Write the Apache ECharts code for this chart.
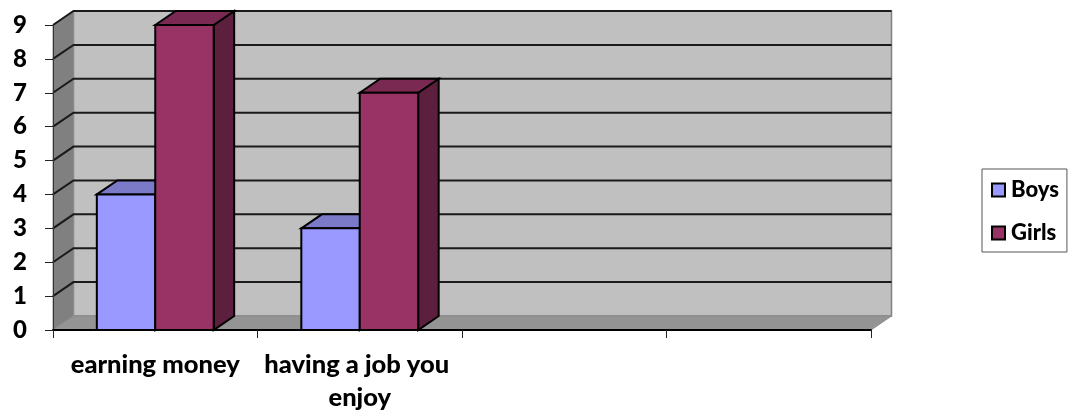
<!DOCTYPE html>
<html>
<head>
<meta charset="utf-8">
<style>
  html, body { margin: 0; padding: 0; background: #fff; }
  #chart { width: 1077px; height: 412px; }
</style>
<script src="https://cdn.jsdelivr.net/npm/echarts@6/dist/echarts.min.js"></script>
</head>
<body>
<div id="chart"></div>
<script>
var categories = ['earning money', 'having a job you enjoy', '', ''];
var yTicks = [1, 2, 3, 4, 5, 6, 7, 8, 9];
var boysValues = [4, 3];
var girlsValues = [9, 7];

// fake 3d depth of the old excel chart
var depthX = 20.5;
var depthY = 14;
var font = 'Lato, "Noto Sans", sans-serif';

function poly(points, fill, stroke, lineWidth) {
  return {
    type: 'polygon',
    shape: { points: points },
    style: { fill: fill, stroke: stroke, lineWidth: lineWidth }
  };
}

function renderWalls(params, api) {
  var c = params.coordSys;
  var l = c.x, r = c.x + c.width, t = c.y, b = c.y + c.height;
  return {
    type: 'group',
    children: [
      poly([[l + depthX, t - depthY], [r + depthX, t - depthY], [r + depthX, b - depthY], [l + depthX, b - depthY]], '#c0c0c0', '#808080', 1.5),
      poly([[l, t], [l + depthX, t - depthY], [l + depthX, b - depthY], [l, b]], '#808080', '#8c8c8c', 1),
      poly([[l, b], [l + depthX, b - depthY], [r + depthX, b - depthY], [r, b]], '#949494', '#8c8c8c', 1)
    ]
  };
}

function renderGrid(params, api) {
  var c = params.coordSys;
  var y = api.coord([0, api.value(0)])[1];
  return {
    type: 'polyline',
    shape: { points: [[c.x, y], [c.x + depthX, y - depthY], [c.x + c.width + depthX, y - depthY]] },
    style: { fill: null, stroke: '#1a1a1a', lineWidth: 2 }
  };
}

function barRenderer(slot, front, top, side) {
  return function (params, api) {
    var base = api.coord([api.value(0), 0]);
    var head = api.coord([api.value(0), api.value(1)]);
    var w = api.size([1, 0])[0] / 3.5;
    var x0 = base[0] + (slot - 1) * w;
    var x1 = x0 + w;
    return {
      type: 'group',
      children: [
        poly([[x1, head[1]], [x1 + depthX, head[1] - depthY], [x1 + depthX, base[1] - depthY], [x1, base[1]]], side, '#000', 2),
        poly([[x0, head[1]], [x0 + depthX, head[1] - depthY], [x1 + depthX, head[1] - depthY], [x1, head[1]]], top, '#000', 2),
        poly([[x0, head[1]], [x1, head[1]], [x1, base[1]], [x0, base[1]]], front, '#000', 2)
      ]
    };
  };
}

var chart = echarts.init(document.getElementById('chart'));
chart.setOption({
  animation: false,
  backgroundColor: '#fff',
  grid: { left: 53, right: 206, top: 25, bottom: 82, outerBoundsMode: 'none' },
  xAxis: {
    type: 'category',
    data: categories,
    z: 5,
    axisLine: { lineStyle: { color: '#000', width: 2 } },
    axisTick: { show: true, alignWithLabel: false, length: 8, lineStyle: { color: '#222' } },
    axisLabel: {
      interval: 0,
      color: '#000',
      fontFamily: font,
      fontWeight: 900,
      fontSize: 25.5,
      lineHeight: 33,
      margin: 18,
      width: 200,
      overflow: 'break'
    }
  },
  yAxis: {
    type: 'value',
    min: 0,
    max: 9,
    interval: 1,
    z: 5,
    splitLine: { show: false },
    axisLine: { show: true, lineStyle: { color: '#333', width: 1 } },
    axisTick: { show: true, length: 8, lineStyle: { color: '#222' } },
    axisLabel: { color: '#000', fontFamily: font, fontWeight: 900, fontSize: 24, margin: 26 }
  },
  legend: {
    data: [
      { name: 'Boys', itemStyle: { color: '#9999ff', borderColor: '#000', borderWidth: 2 } },
      { name: 'Girls', itemStyle: { color: '#993366', borderColor: '#000', borderWidth: 2 } }
    ],
    orient: 'vertical',
    left: 982,
    top: 169,
    icon: 'rect',
    itemWidth: 13,
    itemHeight: 13,
    itemGap: 21,
    padding: [10, 8, 8, 9],
    borderColor: '#555',
    borderWidth: 1,
    selectedMode: false,
    textStyle: { color: '#000', fontFamily: font, fontWeight: 900, fontSize: 22, padding: [0, 0, 0, 1] }
  },
  series: [
    { name: 'walls', type: 'custom', renderItem: renderWalls, data: [[0]], silent: true, z: 1 },
    { name: 'grid', type: 'custom', renderItem: renderGrid, data: yTicks.map(function (v) { return [v]; }), encode: { y: 0 }, silent: true, z: 1 },
    {
      name: 'Boys', type: 'custom', z: 2,
      itemStyle: { color: '#9999ff' },
      renderItem: barRenderer(0, '#9999ff', '#7a7ac8', '#6a6ab0'),
      encode: { x: 0, y: 1 },
      data: boysValues.map(function (v, i) { return [i, v]; })
    },
    {
      name: 'Girls', type: 'custom', z: 2,
      itemStyle: { color: '#993366' },
      renderItem: barRenderer(1, '#993366', '#7a2952', '#5c1f3d'),
      encode: { x: 0, y: 1 },
      data: girlsValues.map(function (v, i) { return [i, v]; })
    }
  ]
});
</script>
</body>
</html>
